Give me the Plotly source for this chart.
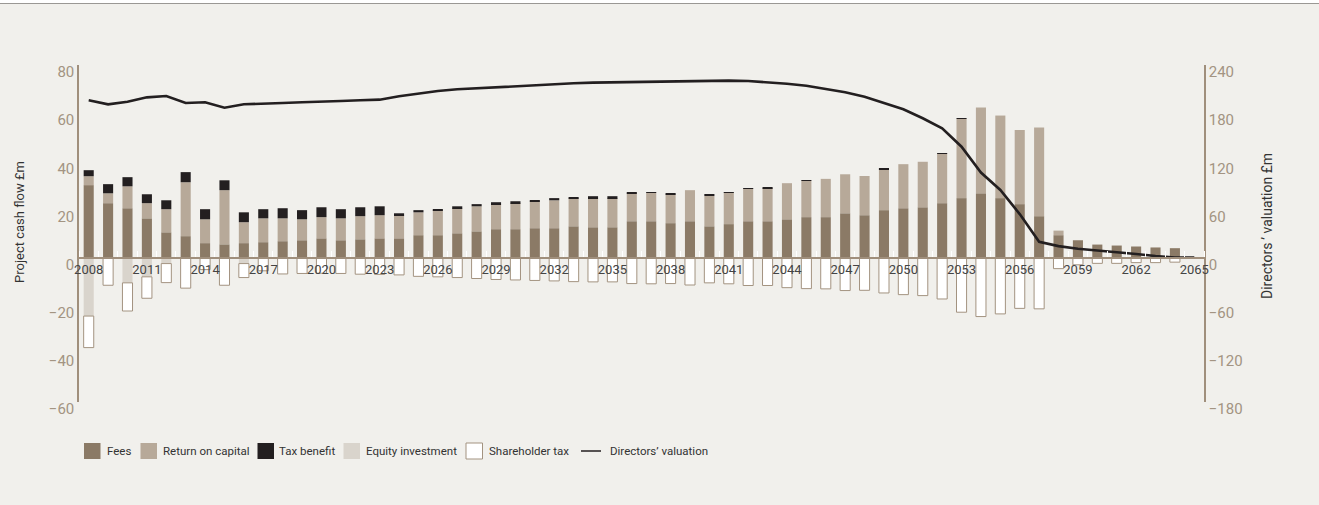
import plotly.graph_objects as go

# ---------------- data ----------------
bar_years = list(range(2008, 2065))
val_years = list(range(2008, 2066))

fees = [30.1, 22.6, 20.5, 16.3, 10.5, 8.9, 6.0, 5.5, 6.0, 6.4, 6.8, 7.2,
        8.0, 7.2, 7.6, 8.0, 8.0, 9.3, 9.3, 10.1, 10.9, 11.8, 11.8, 12.2,
        12.2, 13.0, 12.6, 12.6, 15.1, 15.1, 14.3, 15.1, 13.0, 13.9, 15.1,
        15.1, 15.9, 16.8, 16.8, 18.4, 17.6, 19.7, 20.5, 20.9, 22.6, 24.7, 26.7,
        24.7, 22.2, 17.2, 9.3, 7.2, 5.4, 5.0, 4.6, 4.2, 3.9]
return_on_capital = [3.7, 4.1, 9.1, 6.3, 9.6, 22.4, 9.9, 22.5, 8.7, 9.9, 9.5, 8.7,
                     8.8, 9.1, 9.6, 9.6, 9.6, 9.5, 10.4, 10.4, 10.4, 10.4, 10.8, 11.2,
                     11.6, 11.7, 12.1, 12.1, 11.6, 11.8, 12.0, 12.9, 12.6, 13.2, 13.6,
                     13.8, 15.0, 15.1, 15.9, 16.2, 16.3, 17.0, 18.3, 18.9, 20.5, 32.9, 35.6,
                     34.3, 30.8, 36.8, 1.9, 0, 0, 0, 0, 0, 0]
tax_benefit = [2.5, 3.8, 3.8, 3.7, 3.7, 4.2, 4.2, 4.1, 4.1, 3.8, 4.2, 3.8,
               4.1, 3.8, 3.7, 3.7, 0.8, 0.9, 0.4, 0.8, 0.9, 0.8, 0.8, 0.4,
               0.9, 0.4, 0.8, 0.8, 0.4, 0.2, 0.4, 0, 0.4, 0.1, 0.1,
               0.3, 0, 0.1, 0, 0, 0, 0.3, 0, 0, 0.1, 0.3, 0,
               0, 0, 0, 0, 0, 0, 0, 0, 0, 0]
equity_investment = [-24.3, 0, -10.5, -8.0, -2.5, 0, 0, 0, -2.5, 0, 0, 0,
                     0, 0, 0, 0, 0, 0, 0, 0, 0, 0, 0, 0,
                     0, 0, 0, 0, 0, 0, 0, 0, 0, 0, 0,
                     0, 0, 0, 0, 0, 0, 0, 0, 0, 0, 0, 0,
                     0, 0, 0, 0, 0, 0, 0, 0, 0, 0]
shareholder_tax = [-13.1, -11.5, -11.7, -8.9, -7.9, -12.7, -5.0, -11.5, -5.8, -5.5, -6.8, -6.6,
                   -6.5, -6.6, -6.9, -7.0, -7.2, -7.8, -8.0, -8.3, -8.7, -9.1, -9.3, -9.5,
                   -9.7, -10.0, -10.1, -10.1, -10.8, -10.9, -10.8, -11.4, -10.5, -10.9, -11.6,
                   -11.6, -12.5, -12.9, -13.0, -13.7, -13.6, -14.7, -15.4, -15.8, -17.2, -22.7, -24.5,
                   -23.4, -21.1, -21.3, -4.6, -3.0, -2.4, -2.4, -2.1, -2.1, -1.9]
directors_valuation = [196, 191, 194.3, 199.7, 201.4, 192.6, 193.5, 186.8, 191, 192.2, 192.6, 193.5,
                       194.7, 195.1, 196, 196.8, 201, 204.7, 207.6, 209.7, 211, 212.6, 214.2, 215.5,
                       216.3, 217.2, 218, 218.4, 218.8, 218.8, 219.2, 219.2, 220, 220.5, 220,
                       218.8, 216.7, 214.2, 210.5, 206, 200.5, 193, 184.8, 173.6, 161, 138.2, 106,
                       84.2, 54.2, 19.7, 14.3, 11, 9, 6.9, 4.4, 1.9, 0, 0]

series_names = ["Fees", "Return on capital", "Tax benefit", "Equity investment",
                "Shareholder tax", "Directors\u2019 valuation"]
left_title = "Project cash flow \u00a3m"
right_title = "Directors\u2009\u2019 valuation \u00a3m"
left_ticks = [-60, -40, -20, 0, 20, 40, 60, 80]
right_ticks = [-180, -120, -60, 0, 60, 120, 180, 240]
year_ticks = list(range(2008, 2066, 3))

# ---------------- style ----------------
FONT = "Roboto, Liberation Sans, sans-serif"
BG = "#f1f0ec"
C_FEES = "#8b7a66"
C_ROC = "#b7a999"
C_TAX = "#231f20"
C_EQ = "#d9d4cc"
C_SH_LINE = "#a39380"
C_LINE = "#231f20"
AXIS = "#a08f7c"
TICKTXT = "#a39482"

W, H = 1319, 505
ML, MR, MT, MB = 79, 115, 65, 103
PW, PH = W - ML - MR, H - MT - MB


def px_x(px):
    return (px - ML) / PW


def px_y(py):
    return (H - MB - py) / PH


BW = 0.52
fig = go.Figure()
fig.add_trace(go.Bar(x=bar_years, y=fees, name=series_names[0], width=BW,
                     marker=dict(color=C_FEES, line=dict(width=0))))
fig.add_trace(go.Bar(x=bar_years, y=return_on_capital, name=series_names[1], width=BW,
                     marker=dict(color=C_ROC, line=dict(width=0))))
fig.add_trace(go.Bar(x=bar_years, y=tax_benefit, name=series_names[2], width=BW,
                     marker=dict(color=C_TAX, line=dict(width=0))))
fig.add_trace(go.Bar(x=bar_years, y=equity_investment, name=series_names[3], width=BW,
                     marker=dict(color=C_EQ, line=dict(width=0))))
fig.add_trace(go.Bar(x=bar_years, y=shareholder_tax, name=series_names[4], width=BW,
                     marker=dict(color="white", line=dict(color=C_SH_LINE, width=1))))
fig.add_trace(go.Scatter(x=val_years, y=directors_valuation, name=series_names[5],
                         yaxis="y2", mode="lines",
                         line=dict(color=C_LINE, width=2.6)))

zero_pos = (0 - left_ticks[0]) / (left_ticks[-1] - left_ticks[0])

fig.update_layout(
    width=W, height=H,
    margin=dict(l=ML, r=MR, t=MT, b=MB, pad=0),
    paper_bgcolor=BG, plot_bgcolor=BG,
    barmode="relative",
    showlegend=False,
    font=dict(family=FONT, size=13, color="#333333"),
    xaxis=dict(
        range=[2007.5, 2065.5], anchor="free", position=zero_pos,
        tickmode="array", tickvals=year_ticks, ticktext=[str(y) for y in year_ticks],
        ticks="", showgrid=False, zeroline=False,
        showline=True, linecolor=AXIS, linewidth=1.5,
        tickfont=dict(family=FONT, size=13, color="#444444"),
        minor=dict(tickmode="linear", tick0=2007.5, dtick=1, ticks="inside",
                   ticklen=6, tickwidth=1, tickcolor="white", showgrid=False),
    ),
    yaxis=dict(
        range=[left_ticks[0], left_ticks[-1]], tickmode="array", tickvals=left_ticks,
        showgrid=False, zeroline=False, showline=True, linecolor=AXIS, linewidth=1.5,
        ticks="", ticklabelshift=7,
        tickfont=dict(family=FONT, size=15, color=TICKTXT),
    ),
    yaxis2=dict(
        range=[right_ticks[0], right_ticks[-1]], tickmode="array", tickvals=right_ticks,
        overlaying="y", side="right", showgrid=False, zeroline=False,
        showline=True, linecolor=AXIS, linewidth=1.5,
        ticks="", ticklabelshift=7,
        tickfont=dict(family=FONT, size=15, color=TICKTXT),
    ),
)

# axis titles
fig.add_annotation(text=left_title, xref="paper", yref="paper",
                   x=px_x(19), y=px_y(222), textangle=-90, showarrow=False,
                   xanchor="center", yanchor="middle",
                   font=dict(family=FONT, size=13, color="#333333"))
fig.add_annotation(text=right_title, xref="paper", yref="paper",
                   x=px_x(1267), y=px_y(226), textangle=-90, showarrow=False,
                   xanchor="center", yanchor="middle",
                   font=dict(family=FONT, size=14, color="#333333"))

# white strip and top rule
fig.add_shape(type="rect", xref="paper", yref="paper", layer="below",
              x0=px_x(0), x1=px_x(W), y0=px_y(3), y1=px_y(0),
              fillcolor="white", line=dict(width=0))
fig.add_shape(type="line", xref="paper", yref="paper",
              x0=px_x(0), x1=px_x(W), y0=px_y(3.5), y1=px_y(3.5),
              line=dict(color="#9a9894", width=1))

# manual legend (positions are layout only)
legend_swatch_x = [84, 140.5, 257.5, 343.5, 466, 581]
legend_text_x = [105, 161, 277, 363.5, 487, 607.5]
legend_cy = 451
swatch_styles = [(C_FEES, None), (C_ROC, None), (C_TAX, None), (C_EQ, None),
                 ("white", C_SH_LINE)]
for i, name in enumerate(series_names):
    x0 = legend_swatch_x[i]
    if i < 5:
        fill, edge = swatch_styles[i]
        fig.add_shape(type="rect", xref="paper", yref="paper",
                      x0=px_x(x0), x1=px_x(x0 + 16.5),
                      y0=px_y(legend_cy + 8), y1=px_y(legend_cy - 8),
                      fillcolor=fill,
                      line=dict(color=edge if edge else fill, width=1 if edge else 0))
    else:
        fig.add_shape(type="line", xref="paper", yref="paper",
                      x0=px_x(x0), x1=px_x(x0 + 20),
                      y0=px_y(legend_cy), y1=px_y(legend_cy),
                      line=dict(color=C_LINE, width=1.5))
    fig.add_annotation(text=name, xref="paper", yref="paper",
                       x=px_x(legend_text_x[i]), y=px_y(legend_cy),
                       xanchor="left", yanchor="middle", showarrow=False,
                       font=dict(family=FONT, size=11.5, color="#333333"))

fig.write_html("out.html")
